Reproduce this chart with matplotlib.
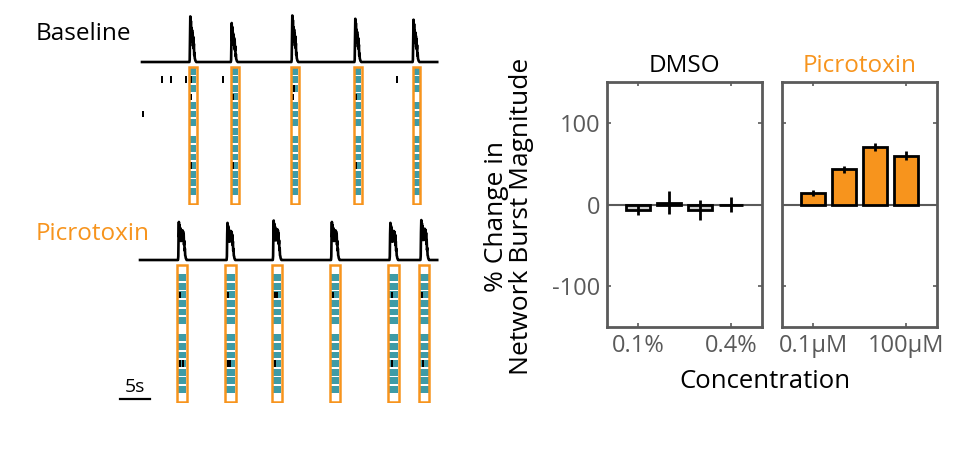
import numpy as np
import matplotlib
matplotlib.use('Agg')
import matplotlib.pyplot as plt
from matplotlib.patches import Rectangle

plt.rcParams['font.family'] = ['Open Sans', 'DejaVu Sans']
plt.rcParams['axes.unicode_minus'] = False

W, H = 964, 451
ORANGE = '#F7941D'
TEAL = '#3E9BA6'
GREY = '#5a5a5a'

# ---------------- data ----------------
dt = 0.05  # s
trace_len = 49.2  # s

# baseline bursts
base_onsets = [7.9, 14.8, 24.9, 35.4, 45.1]
base_amps = [0.97, 0.83, 0.99, 0.92, 0.90]
base_shape = [0, 0.05, 0.6, 1.0, 0.55, 0.9, 0.5, 0.75, 0.45, 0.7, 0.5, 0.62,
              0.35, 0.55, 0.3, 0.4, 0.15, 0.2, 0.08, 0.06, 0.03, 0.02, 0.01, 0]
base_silent = [[3, 7, 15], [15], [3, 7, 15], [7, 15], [3, 7, 15]]
base_marks_t = [3.3, 4.8, 7.4, 8.1, 13.5, 42.5, 0.2, 8.1, 15.1, 25.2, 35.6, 8.1, 15.1, 35.6, 25.3]
base_marks_row = [1, 1, 1, 1, 1, 1, 5, 3, 3, 3, 3, 11, 11, 11, 2]

# picrotoxin bursts
pic_onsets = [6.0, 14.1, 21.8, 31.5, 41.25, 46.4]
pic_amps = [0.81, 0.79, 0.84, 0.81, 0.79, 0.85]
pic_shape = [0, 0.1, 0.7, 1.0, 0.6, 0.92, 0.55, 0.85, 0.5, 0.8, 0.55, 0.75, 0.5, 0.7,
             0.6, 0.78, 0.55, 0.75, 0.5, 0.68, 0.4, 0.5, 0.25, 0.3, 0.12, 0.1, 0.05,
             0.03, 0.01, 0]
pic_silent = [[0, 7, 15]] * 6
pic_marks_t = [6.4, 14.3, 22.1, 22.5, 31.8, 41.6, 46.7, 6.4, 6.9, 14.3, 14.6, 22.1, 41.6, 46.8]
pic_marks_row = [3, 3, 3, 3, 3, 3, 3, 11, 11, 11, 11, 11, 11, 11]

n_rows = 16

# bar charts
dmso_mean = [-7, 2, -7, 0]
dmso_err = [6, 14, 12, 9]
dmso_ticks = ['0.1%', '0.4%']
pic_mean = [14, 43, 70, 60]
pic_err = [4, 4, 5, 5]
pic_ticks = ['0.1µM', '100µM']


def px_axes(left, top, width, height):
    return fig.add_axes([left / W, 1 - (top + height) / H, width / W, height / H])


def make_trace(onsets, amps, shape):
    t = np.arange(0, trace_len + dt / 2, dt)
    y = np.zeros_like(t)
    for on, a in zip(onsets, amps):
        i0 = int(round(on / dt))
        seg = np.array(shape) * a
        y[i0:i0 + len(seg)] += seg[:len(y) - i0]
    return t, y


def draw_raster(ax, box_left, box_w, silent, marks_t, marks_row):
    for left, sil in zip(box_left, silent):
        for r in range(n_rows):
            if r in sil:
                continue
            ax.broken_barh([(left + 0.12, box_w - 0.24)], (r + 0.1, 0.8),
                           facecolor=TEAL, edgecolor='none', zorder=1)
        ax.add_patch(Rectangle((left, 0), box_w, n_rows, fill=False,
                               edgecolor=ORANGE, lw=1.8, zorder=3))
    for t, r in zip(marks_t, marks_row):
        ax.broken_barh([(t - 0.17, 0.34)], (r + 0.12, 0.76),
                       facecolor='black', edgecolor='none', zorder=2)


fig = plt.figure(figsize=(W / 100, H / 100), dpi=100)
xl = (-7, 53)

# ---------------- left: traces + rasters ----------------
ax = px_axes(100, 12, 360, 54)
t, y = make_trace(base_onsets, base_amps, base_shape)
ax.plot(t, y, color='black', lw=1.9)
ax.set_xlim(xl)
ax.set_ylim(-0.085, 1.064)
ax.axis('off')

ax = px_axes(100, 66, 360, 139)
draw_raster(ax, base_onsets, 1.3, base_silent, base_marks_t, base_marks_row)
ax.set_xlim(xl)
ax.set_ylim(n_rows + 0.1, -0.1)
ax.axis('off')

ax = px_axes(100, 213, 360, 51)
t, y = make_trace(pic_onsets, pic_amps, pic_shape)
t = np.concatenate([[-0.33], t])
y = np.concatenate([[0], y])
ax.plot(t, y, color='black', lw=1.9)
ax.set_xlim(xl)
ax.set_ylim(-0.085, 1.0)
ax.axis('off')

ax = px_axes(100, 264, 360, 139)
draw_raster(ax, [o - 0.2 for o in pic_onsets], 1.7, pic_silent, pic_marks_t, pic_marks_row)
ax.set_xlim(xl)
ax.set_ylim(n_rows + 0.1, -0.1)
ax.axis('off')

# scale bar 5 s
ax = px_axes(100, 375, 360, 30)
ax.plot([-3.67, 1.33], [0.2, 0.2], color='black', lw=1.6)
ax.text(-1.17, 0.3, '5s', ha='center', va='bottom', fontsize=14)
ax.set_xlim(xl)
ax.set_ylim(0, 1)
ax.axis('off')

fig.text(36 / W, 1 - 34 / H, 'Baseline', fontsize=17.5, va='center', ha='left')
fig.text(36 / W, 1 - 234 / H, 'Picrotoxin', fontsize=17.5, va='center', ha='left', color=ORANGE)

# ---------------- right: bar charts ----------------
x = np.arange(1, 5)
panels = [
    (607, dmso_mean, dmso_err, '#cfcfcf', 'DMSO', 'black', dmso_ticks),
    (782, pic_mean, pic_err, ORANGE, 'Picrotoxin', ORANGE, pic_ticks),
]
for i, (left, mean, err, fc, title, tc, labels) in enumerate(panels):
    ax = px_axes(left, 82, 155, 245)
    ax.axhline(0, color=GREY, lw=1.5, zorder=0)
    ax.bar(x, mean, width=0.8, color=fc, edgecolor='black', lw=2, zorder=2)
    ax.errorbar(x, mean, yerr=err, fmt='none', ecolor='black', elinewidth=2,
                capsize=0, zorder=3)
    ax.set_xlim(0, 5)
    ax.set_ylim(-150, 150)
    ax.set_yticks([-100, 0, 100])
    ax.set_xticks([1, 4])
    ax.set_xticklabels(labels)
    ax.tick_params(direction='in', length=3, width=1.2, color=GREY,
                   labelcolor=GREY, labelsize=17, top=True, right=True, pad=5)
    if i > 0:
        ax.set_yticklabels([])
    for s in ax.spines.values():
        s.set_color(GREY)
        s.set_linewidth(2)
    ax.set_title(title, color=tc, fontsize=17.5, pad=7)

fig.text(509 / W, 1 - 216 / H, '% Change in\nNetwork Burst Magnitude', fontsize=19,
         rotation=90, ha='center', va='center', multialignment='center', linespacing=1.05)
fig.text(765 / W, 1 - 382 / H, 'Concentration', fontsize=18.5, ha='center', va='center')

fig.savefig('out.png', dpi=100)
